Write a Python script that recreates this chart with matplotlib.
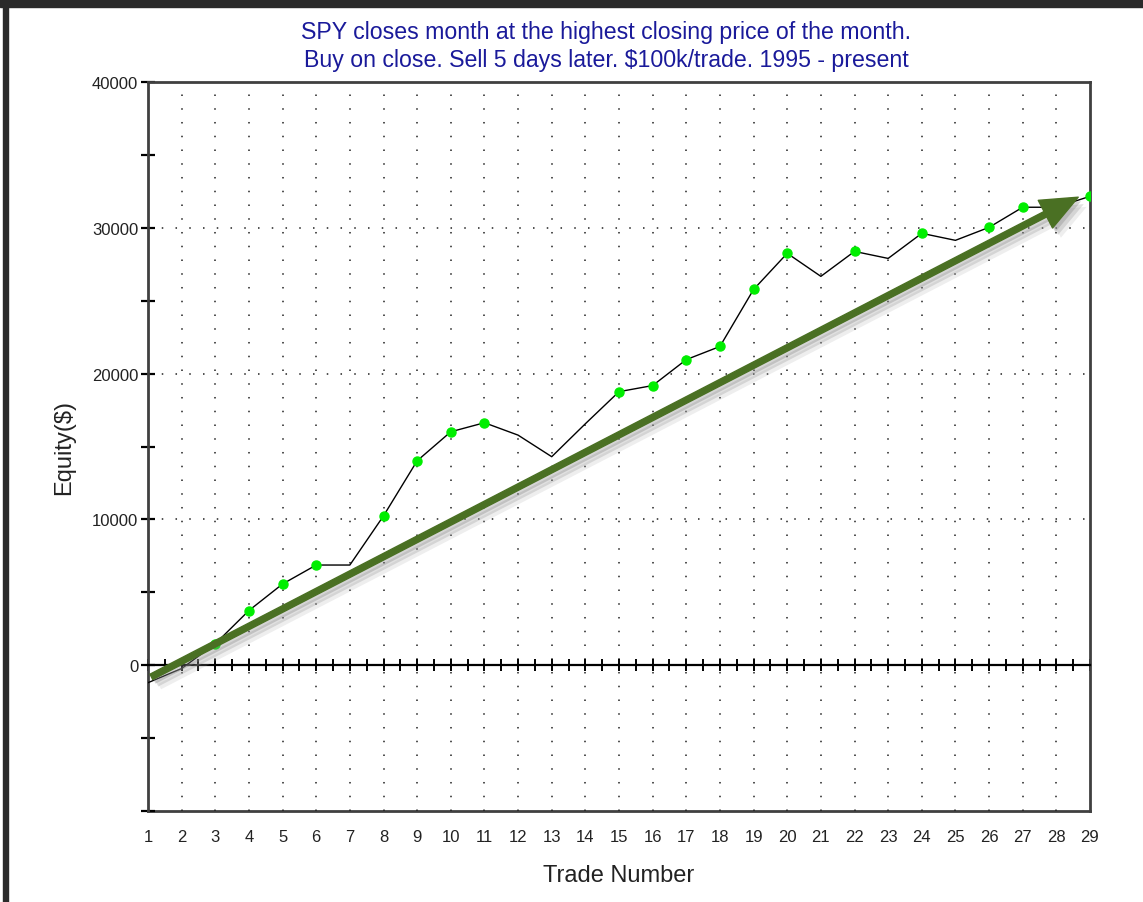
import matplotlib
matplotlib.use("Agg")
import matplotlib.pyplot as plt
import numpy as np
from matplotlib.patches import Rectangle, FancyArrowPatch
from matplotlib.ticker import MultipleLocator
import matplotlib.patheffects as pe

plt.rcParams['font.family'] = ['Liberation Sans', 'DejaVu Sans']

# ---- data ----
trades = list(range(1, 30))
equity = [-1200, -230, 1470, 3750, 5570, 6870, 6870, 10240, 14020, 16010,
          16630, 15780, 14300, 16560, 18760, 19180, 20960, 21860, 25770, 28250,
          26670, 28380, 27900, 29620, 29140, 30030, 31410, 31410, 32160]
dot_trades = [3, 4, 5, 6, 8, 9, 10, 11, 15, 16, 17, 18, 19, 20, 22, 24, 26, 27, 29]
title_lines = ["SPY closes month at the highest closing price of the month.",
               "Buy on close. Sell 5 days later. $100k/trade. 1995 - present"]
arrow_start = (1.1, -800)
arrow_end = (28.65, 32100)

W, H = 1143, 903
fig = plt.figure(figsize=(W / 100, H / 100), dpi=100)
fig.patch.set_facecolor('white')
ax = fig.add_axes([148 / W, 1 - 812 / H, (1090 - 148) / W, (812 - 83) / H])

ax.set_xlim(1, 29)
ax.set_ylim(-10000, 40000)

# grid
dot_style = (0, (1, 8))
for x in range(2, 29):
    ax.axvline(x, color='#222222', lw=1.1, ls=dot_style, zorder=1)
for y in (10000, 20000, 30000):
    ax.axhline(y, color='#222222', lw=1.1, ls=dot_style, zorder=1)

# equity line and dots
ax.plot(trades, equity, color='black', lw=1.0, zorder=3)
dot_vals = [equity[trades.index(t)] for t in dot_trades]
ax.plot(dot_trades, dot_vals, ls='none', marker='o', ms=6.5, mfc='#00ee00',
        mec='#00ee00', zorder=4)

# arrow with shadow
arrow = FancyArrowPatch(arrow_start, arrow_end,
                        arrowstyle='simple,head_length=1.9,head_width=1.6,tail_width=0.31',
                        mutation_scale=14, color='#4a7023', zorder=5, shrinkA=0, shrinkB=0)
arrow.set_path_effects([
    pe.SimplePatchShadow(offset=(6, -7), shadow_rgbFace='#aaaaaa', alpha=0.2),
    pe.SimplePatchShadow(offset=(4, -5), shadow_rgbFace='#999999', alpha=0.3),
    pe.SimplePatchShadow(offset=(2, -3), shadow_rgbFace='#888888', alpha=0.35),
    pe.Normal()])
ax.add_patch(arrow)

# spines
for s in ('left', 'top', 'right'):
    ax.spines[s].set_color('#404040')
    ax.spines[s].set_linewidth(2)
ax.spines['bottom'].set_position(('data', 0))
ax.spines['bottom'].set_color('black')
ax.spines['bottom'].set_linewidth(1.6)

# x ticks on zero line
ax.xaxis.set_major_locator(MultipleLocator(1))
ax.xaxis.set_minor_locator(MultipleLocator(0.5))
ax.tick_params(axis='x', which='both', direction='inout', length=9, width=1.4,
               color='black', labelbottom=False)

# bottom labels via secondary axis
sec = ax.secondary_xaxis(0.0)
sec.set_xticks(trades)
sec.set_xticklabels([str(t) for t in trades])
sec.tick_params(axis='x', length=0, pad=13, labelsize=12, labelcolor='#222222')
sec.spines['bottom'].set_color('#404040')
sec.spines['bottom'].set_linewidth(2)
sec.set_xlabel('Trade Number', fontsize=17, color='#222222', labelpad=14)

# y ticks
ax.yaxis.set_major_locator(MultipleLocator(10000))
ax.yaxis.set_minor_locator(MultipleLocator(5000))
yt = [-10000, 0, 10000, 20000, 30000, 40000]
ax.set_yticks(yt)
ax.set_yticklabels(['' if v < 0 else str(v) for v in yt])
ax.tick_params(axis='y', which='both', direction='inout', length=10, width=1.6,
               color='black', labelsize=12, labelcolor='#222222', pad=2)
ax.set_ylabel('Equity($)', fontsize=17, color='#222222', labelpad=12)

# title
fig.text(606 / W, 1 - 33 / H, title_lines[0], ha='center', va='center',
         fontsize=16.7, color='#1a1a9a')
fig.text(606 / W, 1 - 60 / H, title_lines[1], ha='center', va='center',
         fontsize=16.7, color='#1a1a9a')

# frame bands
fig.add_artist(Rectangle((0, 1 - 8 / H), 1, 8 / H, transform=fig.transFigure,
                         color='#2a2a2a', zorder=10))
fig.add_artist(Rectangle((3 / W, 0), 5 / W, 1, transform=fig.transFigure,
                         color='#2a2a2a', zorder=10))

fig.savefig('out.png', dpi=100)
